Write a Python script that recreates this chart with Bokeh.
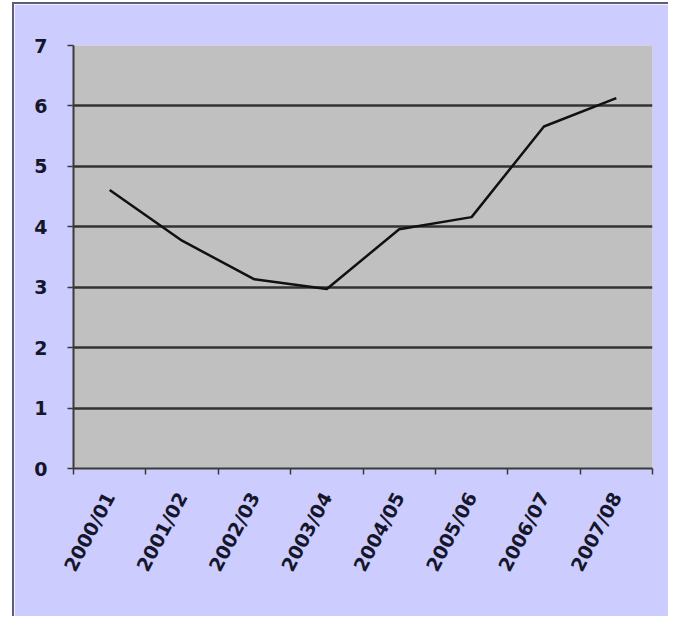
import math
from bokeh.plotting import figure
from bokeh.models import Range1d, LinearAxis, FixedTicker
from bokeh.embed import file_html
from bokeh.resources import INLINE

# ---- data ----
seasons = ["2000/01", "2001/02", "2002/03", "2003/04",
           "2004/05", "2005/06", "2006/07", "2007/08"]
values = [4.61, 3.77, 3.13, 2.97, 3.96, 4.16, 5.66, 6.13]
y_ticks = [0, 1, 2, 3, 4, 5, 6, 7]

# category slots: centre of slot i is i + 0.5, boundaries at integers
centres = [i + 0.5 for i in range(len(seasons))]
edges = list(range(len(seasons) + 1))

LAVENDER = "#ccccff"
PLOT_GRAY = "#c0c0c0"
DARK = "#3a3a3a"
TEXT = "#16162a"
FONT = "DejaVu Sans"

p = figure(
    width=656, height=614,
    x_range=Range1d(0, len(seasons)),
    y_range=Range1d(0, 7),
    x_axis_location=None,
    output_backend="svg", toolbar_location=None,
    background_fill_color=PLOT_GRAY,
    border_fill_color=LAVENDER,
    min_border_left=59, min_border_top=41,
    min_border_right=18, min_border_bottom=150,
    styles={"margin-left": "12px", "margin-top": "2px",
            "border-left": "2px solid #5c5c78",
            "border-top": "2px solid #5c5c78"},
)
p.outline_line_color = None

# x axis: labels at slot centres, Excel-style ticks at slot boundaries (minor)
xax = LinearAxis(ticker=FixedTicker(ticks=centres, minor_ticks=edges),
                 major_label_overrides={c: s for c, s in zip(centres, seasons)})
xax.axis_line_color = DARK
xax.axis_line_width = 2
xax.major_tick_line_color = None
xax.major_tick_out = 6
xax.major_tick_in = 0
xax.minor_tick_line_color = DARK
xax.minor_tick_line_width = 1.5
xax.minor_tick_out = 6
xax.minor_tick_in = 0
xax.major_label_orientation = math.radians(62)
xax.major_label_standoff = 19
xax.major_label_text_font = FONT
xax.major_label_text_font_style = "bold"
xax.major_label_text_font_size = "19px"
xax.major_label_text_color = TEXT
p.add_layout(xax, "below")

# y axis
yax = p.yaxis[0]
yax.ticker = FixedTicker(ticks=y_ticks)
yax.axis_line_color = DARK
yax.axis_line_width = 2
yax.major_tick_line_color = DARK
yax.major_tick_line_width = 1.5
yax.major_tick_out = 6
yax.major_tick_in = 0
yax.minor_tick_line_color = None
yax.major_label_standoff = 20
yax.major_label_text_font = FONT
yax.major_label_text_font_style = "bold"
yax.major_label_text_font_size = "19px"
yax.major_label_text_color = TEXT

p.xgrid.grid_line_color = None
p.ygrid.ticker = FixedTicker(ticks=y_ticks)
p.ygrid.grid_line_color = "#333333"
p.ygrid.grid_line_width = 2.5

p.line(x=centres, y=values, line_color="#111111", line_width=2.5)

open("out.html", "w").write(file_html(p, INLINE))
